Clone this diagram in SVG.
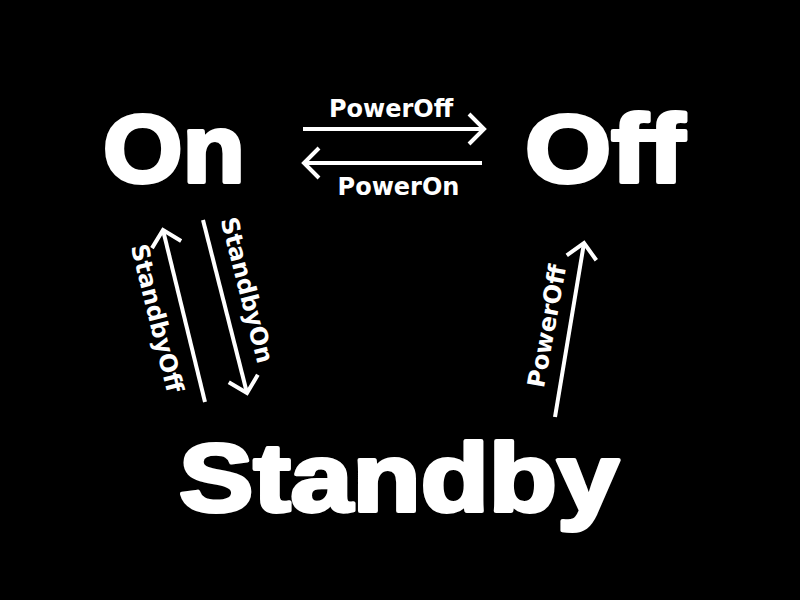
<svg xmlns="http://www.w3.org/2000/svg" width="800" height="600" viewBox="0 0 800 600">
<defs>
<style>
.state{font-family:"Liberation Sans",Arial,sans-serif;font-weight:bold;fill:#fff;stroke:#fff;stroke-width:4;stroke-linejoin:round}
.lbl{font-family:"DejaVu Sans",Verdana,sans-serif;font-weight:bold;font-size:24px;fill:#fff;text-anchor:middle}
.edge{stroke:#fff;stroke-width:4;fill:none;marker-end:url(#arr)}
</style>
<marker id="arr" markerUnits="userSpaceOnUse" markerWidth="40" markerHeight="40" viewBox="-20 -20 40 40" refX="0" refY="0" orient="auto" overflow="visible">
<path d="M-15,-15 L0,0 L-15,15" fill="none" stroke="#fff" stroke-width="4" stroke-linejoin="miter"/>
</marker>
</defs>
<rect width="800" height="600" fill="#000"/>
<g id="node-on"><text class="state" x="103" y="182" font-size="96" textLength="142" lengthAdjust="spacingAndGlyphs">On</text></g>
<g id="node-off"><text class="state" x="525" y="182" font-size="96" textLength="160" lengthAdjust="spacingAndGlyphs">Off</text></g>
<g id="node-standby"><text class="state" x="179" y="511" font-size="97" textLength="440" lengthAdjust="spacingAndGlyphs">Standby</text></g>
<g id="connectors">
<line class="edge" x1="303" y1="129" x2="484" y2="129"/>
<text class="lbl" x="391" y="117">PowerOff</text>
<line class="edge" x1="482" y1="163" x2="304" y2="163"/>
<text class="lbl" x="398.5" y="195">PowerOn</text>
<line class="edge" x1="205" y1="402" x2="163" y2="230"/>
<text class="lbl" transform="translate(157.5,318) rotate(76)" x="0" y="8.7">StandbyOff</text>
<line class="edge" x1="203" y1="220" x2="247" y2="393"/>
<text class="lbl" transform="translate(247.5,290) rotate(75.6)" x="0" y="8.7">StandbyOn</text>
<line class="edge" x1="555" y1="417" x2="584" y2="243"/>
<text class="lbl" transform="translate(546.5,326) rotate(-79.6)" x="0" y="8.7">PowerOff</text>
</g>
</svg>
